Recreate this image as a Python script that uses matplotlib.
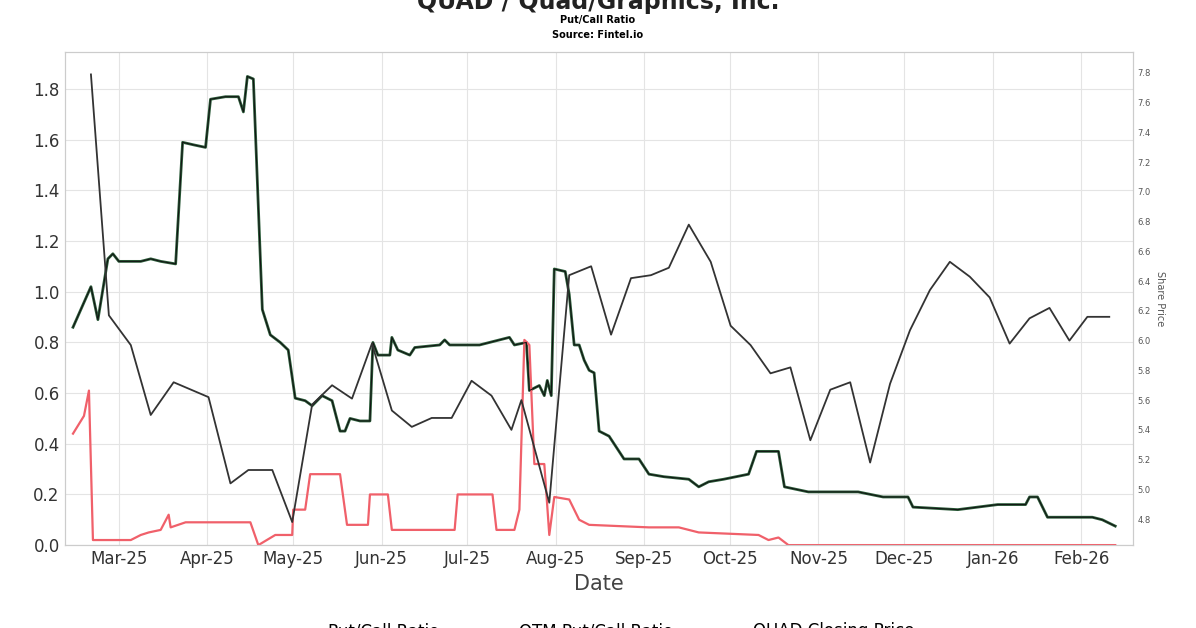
import numpy as np
import pandas as pd
import matplotlib
matplotlib.use('Agg')
import matplotlib.pyplot as plt
import matplotlib.dates as mdates
from matplotlib.lines import Line2D

BASE = pd.Timestamp('2025-03-01')
PX_PER_DAY = 2.866

def px_dates(xs):
    return [BASE + pd.Timedelta(days=(x - 118) / PX_PER_DAY) for x in xs]

# price series (pixel x -> date, value in $)
price_x = [90, 108, 130, 150, 173, 208, 230, 248, 272, 292, 312, 332, 352, 372, 392, 412,
           432, 452, 472, 492, 512, 522, 550, 570, 592, 612, 632, 652, 670, 690, 712, 732,
           752, 772, 792, 812, 832, 852, 872, 892, 912, 932, 952, 972, 992, 1012, 1032,
           1052, 1072, 1090, 1112]
price_v = [7.79, 6.17, 5.97, 5.50, 5.72, 5.62, 5.04, 5.13, 5.13, 4.78, 5.57, 5.70, 5.61,
           5.98, 5.53, 5.42, 5.48, 5.48, 5.73, 5.63, 5.40, 5.60, 4.91, 6.44, 6.50, 6.04,
           6.42, 6.44, 6.49, 6.78, 6.53, 6.10, 5.97, 5.78, 5.82, 5.33, 5.67, 5.72, 5.18,
           5.71, 6.07, 6.34, 6.53, 6.43, 6.29, 5.98, 6.15, 6.22, 6.00, 6.16, 6.16]

pcr_x = [72, 90, 97, 107, 112, 118, 140, 150, 160, 175, 182, 193, 205, 210, 225, 238, 243,
         247, 253, 262, 270, 280, 288, 295, 305, 312, 322, 332, 340, 345, 350, 360, 370,
         373, 378, 390, 392, 398, 410, 415, 440, 445, 450, 480, 510, 515, 527, 530, 540,
         545, 548, 552, 555, 566, 570, 575, 580, 585, 590, 595, 600, 610, 625, 640, 650,
         665, 690, 700, 710, 725, 750, 758, 780, 786, 810, 860, 885, 910, 915, 960, 1000,
         1028, 1032, 1040, 1050, 1095, 1105, 1118]
pcr_v = [0.86, 1.02, 0.89, 1.13, 1.15, 1.12, 1.12, 1.13, 1.12, 1.11, 1.59, 1.58, 1.57,
         1.76, 1.77, 1.77, 1.71, 1.85, 1.84, 0.93, 0.83, 0.80, 0.77, 0.58, 0.57, 0.55,
         0.59, 0.57, 0.45, 0.45, 0.50, 0.49, 0.49, 0.80, 0.75, 0.75, 0.82, 0.77, 0.75,
         0.78, 0.79, 0.81, 0.79, 0.79, 0.82, 0.79, 0.80, 0.61, 0.63, 0.59, 0.65, 0.59,
         1.09, 1.08, 0.99, 0.79, 0.79, 0.73, 0.69, 0.68, 0.45, 0.43, 0.34, 0.34, 0.28,
         0.27, 0.26, 0.23, 0.25, 0.26, 0.28, 0.37, 0.37, 0.23, 0.21, 0.21, 0.19, 0.19,
         0.15, 0.14, 0.16, 0.16, 0.19, 0.19, 0.11, 0.11, 0.10, 0.075]

otm_x = [72, 83, 88, 92, 130, 140, 148, 160, 168, 170, 185, 250, 258, 275, 292, 293, 305,
         310, 340, 347, 368, 370, 388, 392, 455, 458, 493, 497, 515, 520, 525, 530, 535,
         545, 550, 555, 570, 580, 590, 650, 680, 700, 760, 770, 780, 790, 1118]
otm_v = [0.44, 0.51, 0.61, 0.02, 0.02, 0.04, 0.05, 0.06, 0.12, 0.07, 0.09, 0.09, 0.0,
         0.04, 0.04, 0.14, 0.14, 0.28, 0.28, 0.08, 0.08, 0.20, 0.20, 0.06, 0.06, 0.20,
         0.20, 0.06, 0.06, 0.14, 0.81, 0.79, 0.32, 0.32, 0.04, 0.19, 0.18, 0.10, 0.08,
         0.07, 0.07, 0.05, 0.04, 0.02, 0.03, 0.0, 0.0]

fig = plt.figure(figsize=(11.96, 6.28), dpi=100)
ax = fig.add_axes([0.054, 0.132, 0.893, 0.785])
ax2 = ax.twinx()

ax.plot(px_dates(pcr_x), pcr_v, color='#2a5a38', lw=2.0, zorder=3)
ax.plot(px_dates(pcr_x), pcr_v, color='#111111', lw=0.7, zorder=4)
ax.plot(px_dates(otm_x), otm_v, color='#f0606a', lw=1.6, zorder=3)
ax2.plot(px_dates(price_x), price_v, color='#333333', lw=1.3)

ax.set_ylim(0, 1.946)
ax2.set_ylim(4.625, 7.94)
ax.set_yticks(np.arange(0, 1.81, 0.2))
ax.set_yticklabels([f'{v:.1f}' for v in np.arange(0, 1.81, 0.2)])
ax2.set_yticks(np.arange(4.8, 7.81, 0.2))
ax2.set_yticklabels([f'{v:.1f}' for v in np.arange(4.8, 7.81, 0.2)], fontsize=6, color='#555555')
ax2.set_ylabel('Share Price', fontsize=7, color='#555555', rotation=270, labelpad=10)
ax.set_xlim(pd.Timestamp('2025-02-10'), pd.Timestamp('2026-02-19'))
ax.xaxis.set_major_locator(mdates.MonthLocator())
ax.xaxis.set_major_formatter(mdates.DateFormatter('%b-%y'))
ax.tick_params(axis='both', labelsize=12, colors='#333333', length=0)
ax2.tick_params(length=0)
ax.grid(True, color='#e4e4e4', lw=0.8)
for a in (ax, ax2):
    for s in a.spines.values():
        s.set_color('#cccccc')
ax.set_xlabel('Date', fontsize=15, color='#444444')

fig.text(0.5, 0.977, 'QUAD / Quad/Graphics, Inc.', ha='center', va='bottom',
         fontsize=17, fontweight='bold', color='#222222')
fig.text(0.5, 0.968, 'Put/Call Ratio', ha='center', va='center', fontsize=7, fontweight='bold')
fig.text(0.5, 0.944, 'Source: Fintel.io', ha='center', va='center', fontsize=7, fontweight='bold')

handles = [Line2D([], [], color='#2a5a38', lw=2), Line2D([], [], color='#f0606a', lw=2),
           Line2D([], [], color='#333333', lw=2)]
fig.legend(handles, ['Put/Call Ratio', 'OTM Put/Call Ratio', 'QUAD Closing Price'],
           loc='center', bbox_to_anchor=(0.5, -0.005), ncol=3, frameon=False, fontsize=12)

fig.savefig('out.png', dpi=100)
